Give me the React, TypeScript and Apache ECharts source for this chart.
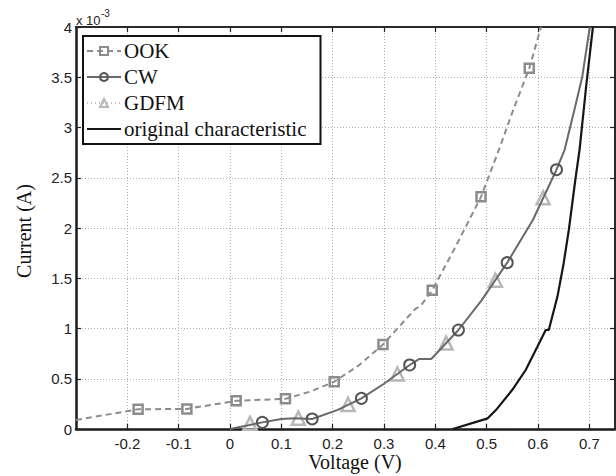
import React, { useEffect, useRef } from "react";
import * as echarts from "echarts";

// [voltage (V), current (mA), marker flag]
const ookPoints: number[][] = [
  [-0.3, 0.09, 0], [-0.179, 0.196, 1], [-0.084, 0.2, 1], [0.012, 0.28, 1], [0.108, 0.3, 1],
  [0.155, 0.37, 0], [0.203, 0.47, 1], [0.25, 0.63, 0], [0.298, 0.84, 1], [0.335, 1.05, 0],
  [0.36, 1.19, 0], [0.372, 1.23, 0], [0.394, 1.38, 1], [0.44, 1.82, 0], [0.489, 2.31, 1],
  [0.524, 2.78, 0], [0.55, 3.15, 0], [0.583, 3.59, 1], [0.606, 4.0, 0],
];
const cwPoints: number[][] = [
  [0, 0, 0], [0.063, 0.066, 1], [0.1, 0.1, 0], [0.126, 0.106, 0], [0.16, 0.1, 1],
  [0.21, 0.19, 0], [0.256, 0.305, 1], [0.3, 0.45, 0], [0.35, 0.637, 1], [0.369, 0.697, 0],
  [0.392, 0.697, 0], [0.445, 0.985, 1], [0.49, 1.28, 0], [0.54, 1.655, 1], [0.59, 2.08, 0],
  [0.636, 2.58, 1], [0.652, 2.78, 0], [0.672, 3.2, 0], [0.686, 3.5, 0], [0.701, 4.0, 0],
];
const gdfmPoints: number[][] = [
  [0, 0, 0], [0.039, 0.056, 1], [0.063, 0.066, 0], [0.1, 0.1, 0], [0.133, 0.108, 1],
  [0.16, 0.1, 0], [0.21, 0.19, 0], [0.23, 0.245, 1], [0.256, 0.305, 0], [0.3, 0.45, 0],
  [0.326, 0.547, 1], [0.35, 0.637, 0], [0.369, 0.697, 0], [0.392, 0.697, 0], [0.421, 0.855, 1],
  [0.445, 0.985, 0], [0.49, 1.28, 0], [0.517, 1.48, 1], [0.54, 1.655, 0], [0.59, 2.08, 0],
  [0.61, 2.3, 1], [0.636, 2.58, 0], [0.652, 2.78, 0], [0.672, 3.2, 0], [0.686, 3.5, 0],
  [0.701, 4.0, 0],
];
const originalPoints: number[][] = [
  [0.434, 0], [0.502, 0.106], [0.52, 0.2], [0.55, 0.39], [0.576, 0.587], [0.599, 0.82],
  [0.615, 0.985], [0.621, 0.985], [0.638, 1.32], [0.65, 1.65], [0.66, 1.98], [0.673, 2.49],
  [0.681, 2.78], [0.694, 3.42], [0.707, 4.0],
];
const seriesNames = ["OOK", "CW", "GDFM", "original characteristic"];
const xTickLabels = ["-0.2", "-0.1", "0", "0.1", "0.2", "0.3", "0.4", "0.5", "0.6", "0.7"];
const yTickLabels = ["0", "0.5", "1", "1.5", "2", "2.5", "3", "3.5", "4"];

const toData = (pts: number[][]) =>
  pts.map((p) => (p[2] ? { value: [p[0], p[1]] } : { value: [p[0], p[1]], symbol: "none" }));

export default function App() {
  const ref = useRef<HTMLDivElement>(null);
  useEffect(() => {
    if (!ref.current) return;
    const chart = echarts.init(ref.current, undefined, { renderer: "svg" });
    const sans = "'Liberation Sans', Arial, sans-serif";
    const serif = "'Liberation Serif', 'Times New Roman', serif";
    const xFmt = (v: number) => {
      const s = String(Math.round(v * 10) / 10);
      return xTickLabels.includes(s) ? s : "";
    };
    const yFmt = (v: number) => {
      const s = String(Math.round(v * 10) / 10);
      return yTickLabels.includes(s) ? s : "";
    };
    const tick = { show: true, inside: true, length: 5, lineStyle: { color: "#222", width: 1.2 } };
    const option: any = {
      animation: false,
      backgroundColor: "#fff",
      grid: { left: 76, right: 1, top: 27, bottom: 47, containLabel: false },
      xAxis: [
        {
          type: "value",
          position: "bottom",
          min: -0.3,
          max: 0.75,
          interval: 0.1,
          axisTick: tick,
          axisLine: { onZero: false, lineStyle: { color: "#1a1a1a", width: 2.5 } },
          axisLabel: { formatter: xFmt, color: "#222", fontSize: 15, fontFamily: sans, margin: 7, showMinLabel: false, showMaxLabel: false },
          splitLine: { show: true, lineStyle: { color: "#b0b0b0", type: [1, 2], width: 1 } },
        },
        {
          type: "value",
          position: "top",
          min: -0.3,
          max: 0.75,
          interval: 0.1,
          axisTick: tick,
          axisLine: { onZero: false, lineStyle: { color: "#2a2a2a", width: 2 } },
          axisLabel: { show: false },
          splitLine: { show: false },
        },
      ],
      yAxis: [
        {
          type: "value",
          position: "left",
          min: 0,
          max: 4,
          interval: 0.5,
          axisTick: tick,
          axisLine: { show: true, onZero: false, lineStyle: { color: "#1a1a1a", width: 2.5 } },
          axisLabel: { formatter: yFmt, color: "#222", fontSize: 15, fontFamily: sans, margin: 4 },
          splitLine: { show: true, lineStyle: { color: "#b0b0b0", type: [1, 2], width: 1 } },
        },
        {
          type: "value",
          position: "right",
          min: 0,
          max: 4,
          interval: 0.5,
          axisTick: tick,
          axisLine: { show: true, onZero: false, lineStyle: { color: "#2a2a2a", width: 2 } },
          axisLabel: { show: false },
          splitLine: { show: false },
        },
      ],
      legend: {
        orient: "vertical",
        left: 83,
        top: 36,
        backgroundColor: "#fff",
        borderColor: "#111",
        borderWidth: 2,
        borderRadius: 0,
        padding: [2, 14, 2, 3],
        itemWidth: 34,
        itemHeight: 10,
        itemGap: 0,
        textStyle: { fontFamily: serif, fontSize: 21, lineHeight: 26, color: "#111", padding: [0, 0, 0, -2] },
        data: seriesNames,
      },
      graphic: [
        { type: "text", x: 76, y: 20, style: { text: "x 10", fontSize: 13, fontFamily: sans, fill: "#222", align: "left", verticalAlign: "middle" } },
        { type: "text", x: 101, y: 13, style: { text: "-3", fontSize: 10, fontFamily: sans, fill: "#222", align: "left", verticalAlign: "middle" } },
        { type: "text", x: 355, y: 462, style: { text: "Voltage (V)", fontSize: 20, fontFamily: serif, fill: "#111", align: "center", verticalAlign: "middle" } },
        { type: "text", x: 24, y: 231, rotation: Math.PI / 2, style: { text: "Current (A)", fontSize: 20, fontFamily: serif, fill: "#111", align: "center", verticalAlign: "middle" } },
      ],
      series: [
        {
          name: seriesNames[0],
          type: "line",
          z: 3,
          data: toData(ookPoints),
          symbol: "rect",
          symbolSize: 9,
          showSymbol: true,
          lineStyle: { color: "#8c8c8c", width: 2, type: [6, 4] },
          itemStyle: { color: "rgba(255,255,255,0)", borderColor: "#8c8c8c", borderWidth: 2.5 },
        },
        {
          name: seriesNames[2],
          type: "line",
          z: 2,
          data: toData(gdfmPoints),
          symbol: "triangle",
          symbolSize: 13,
          showSymbol: true,
          lineStyle: { color: "#c4c4c4", width: 1.5, type: [1, 3] },
          itemStyle: { color: "rgba(255,255,255,0)", borderColor: "#b8b8b8", borderWidth: 2.5 },
        },
        {
          name: seriesNames[1],
          type: "line",
          z: 4,
          data: toData(cwPoints),
          symbol: "circle",
          symbolSize: 11,
          showSymbol: true,
          lineStyle: { color: "#6a6a6a", width: 2 },
          itemStyle: { color: "rgba(255,255,255,0)", borderColor: "#555", borderWidth: 2 },
        },
        {
          name: seriesNames[3],
          type: "line",
          z: 5,
          data: originalPoints,
          symbol: "none",
          showSymbol: false,
          lineStyle: { color: "#161616", width: 2.2 },
          itemStyle: { color: "rgba(0,0,0,0)", borderWidth: 0 },
        },
      ],
    };
    chart.setOption(option);
    return () => chart.dispose();
  }, []);
  return <div ref={ref} style={{ position: "fixed", left: 0, top: 0, width: 616, height: 476 }} />;
}
